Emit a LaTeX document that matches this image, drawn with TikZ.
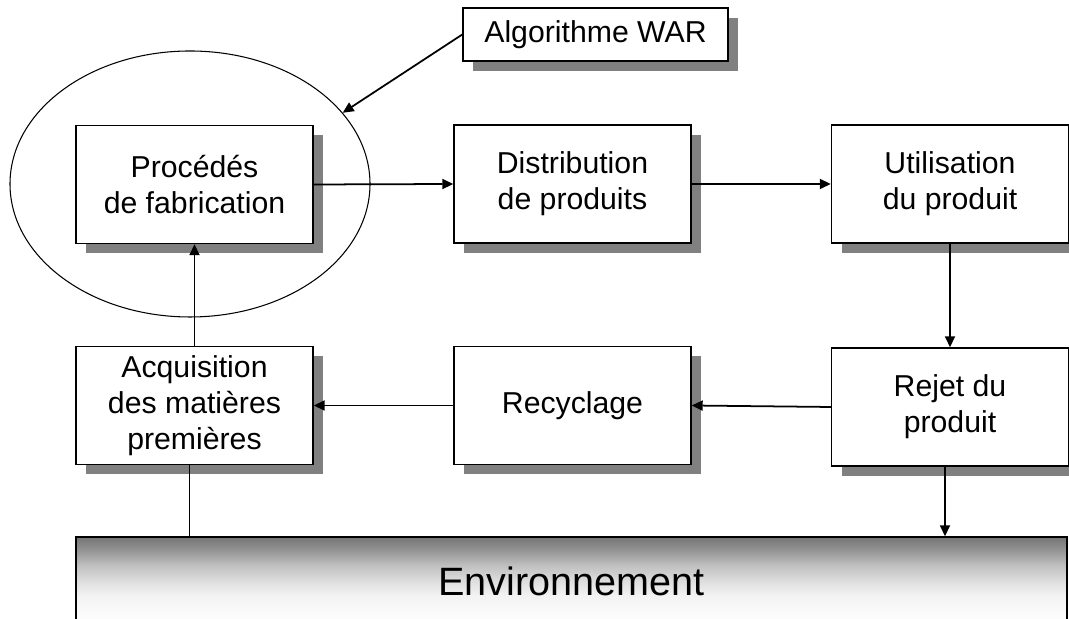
\documentclass[tikz,border=0pt]{standalone}
\usepackage{fontspec}
\setmainfont{Liberation Sans}
\usepackage{tikz}
\usetikzlibrary{positioning,arrows.meta,shadows,shapes.geometric}
\definecolor{shadowgray}{RGB}{128,128,128}
\definecolor{envtop}{RGB}{116,116,116}
\pgfdeclareverticalshading{envshade}{100bp}{color(0bp)=(white); color(25bp)=(white); color(33bp)=(black!2); color(42bp)=(black!5); color(50bp)=(black!13); color(59bp)=(black!25); color(67bp)=(black!41); color(75bp)=(envtop); color(100bp)=(envtop)}
\tikzset{
  blk/.style={draw,fill=white,align=center,font=\fontsize{17.2}{20.5}\selectfont,minimum width=47.4mm,minimum height=23.6mm,inner sep=2pt,line width=0.8pt,
    drop shadow={shadow xshift=2mm,shadow yshift=-2mm,fill=shadowgray,opacity=1}},
  ar/.style={-{Triangle[length=2.2mm,width=2mm]},line width=1pt},
  ln/.style={line width=1pt},
}

\begin{document}
\begin{tikzpicture}[x=0.2mm,y=0.2mm]
  \clip (0,0) rectangle (1069,619);
  % zone traitee par l'algorithme
  \node[ellipse,draw,line width=0.6pt,minimum width=72mm,minimum height=53.2mm,inner sep=0pt] (zone) at (190,435) {};
  \node[blk] (proc) at (194.5,434.5) {Procédés\\de fabrication};
  \node[blk] (dist) at (572.5,435) {Distribution\\de produits};
  \node[blk] (util) at (950,435) {Utilisation\\du produit};
  \node[blk] (acq) at (194.5,213.5) {Acquisition\\des matières\\premières};
  \node[blk] (recy) at (572.5,213.5) {Recyclage};
  \node[blk] (rej) at (950,212) {Rejet du\\produit};
  \node[blk,minimum width=53mm,minimum height=10.6mm] (algo) at (595.5,584.5) {Algorithme WAR};
  \node[draw,line width=0.8pt,shading=envshade,minimum width=198.2mm,minimum height=17.6mm,
    font=\fontsize{22.5}{26}\selectfont] (env) at (571.5,38) {Environnement};
  % fleches
  \draw[ar] (algo.west) -- (zone.25);
  \draw[ar] (proc.east) -- (dist.west);
  \draw[ar] (dist.east) -- (util.west);
  \draw[ar] (util.south) -- (rej.north);
  \draw[ar] (rej.west) -- (recy.east);
  \draw[ar] (recy.west) -- (acq.east);
  \draw[ar] (acq.north) -- (proc.south);
  \draw[ln] ([xshift=-1mm]acq.south) -- ([xshift=-1mm]acq.south |- env.north);
  \draw[ar] ([xshift=-1mm]rej.south) -- ([xshift=-1mm]rej.south |- env.north);
\end{tikzpicture}
\end{document}
